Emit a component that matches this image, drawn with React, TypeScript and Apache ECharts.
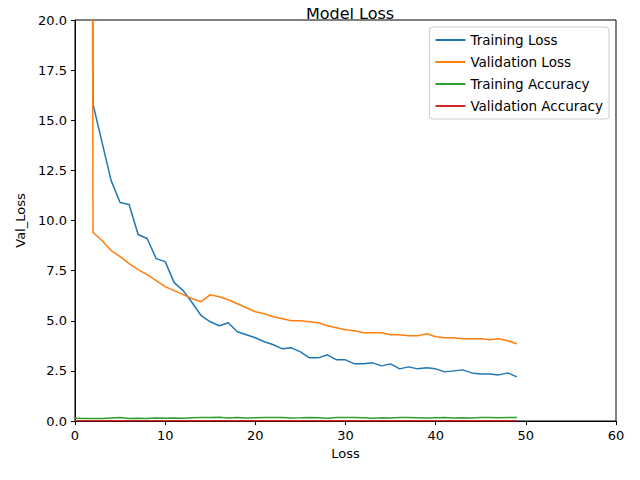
import { useEffect, useRef } from 'react'
import * as echarts from 'echarts'

const epochs = Array.from({ length: 50 }, (_, i) => i)
const trainLoss = [300, 150, 15.8, 13.9, 12.0, 10.9, 10.8, 9.3, 9.1, 8.1, 7.95, 6.9, 6.5, 5.9, 5.25, 4.95, 4.75, 4.9, 4.45, 4.3,
  4.15, 3.95, 3.8, 3.6, 3.65, 3.45, 3.15, 3.15, 3.3, 3.05, 3.05, 2.85, 2.85, 2.9, 2.75, 2.85, 2.6, 2.7, 2.6, 2.65,
  2.6, 2.45, 2.5, 2.55, 2.4, 2.35, 2.35, 2.3, 2.4, 2.2]
const valLoss = [400, 200, 9.4, 9.0, 8.5, 8.2, 7.85, 7.55, 7.3, 7.0, 6.7, 6.5, 6.3, 6.1, 5.95, 6.3, 6.2, 6.05, 5.85, 5.65,
  5.45, 5.35, 5.2, 5.1, 5.0, 5.0, 4.95, 4.9, 4.75, 4.65, 4.55, 4.5, 4.4, 4.4, 4.4, 4.3, 4.3, 4.25, 4.25, 4.35,
  4.2, 4.15, 4.15, 4.1, 4.1, 4.1, 4.05, 4.1, 4.0, 3.85]
const trainAcc = [0.14, 0.13, 0.13, 0.12, 0.15, 0.17, 0.13, 0.14, 0.12, 0.15, 0.14, 0.15, 0.14, 0.16, 0.18, 0.18, 0.19, 0.15, 0.17, 0.15,
  0.16, 0.17, 0.17, 0.18, 0.15, 0.16, 0.18, 0.16, 0.14, 0.18, 0.18, 0.17, 0.16, 0.14, 0.16, 0.15, 0.17, 0.17, 0.16, 0.15,
  0.16, 0.17, 0.15, 0.16, 0.15, 0.18, 0.18, 0.16, 0.17, 0.17]
const valAcc = epochs.map(() => 0.01)

const names = ['Training Loss', 'Validation Loss', 'Training Accuracy', 'Validation Accuracy']
const colors = ['#1f77b4', '#ff7f0e', '#2ca02c', '#d62728']
const seriesData = [trainLoss, valLoss, trainAcc, valAcc]

export default function App() {
  const ref = useRef<HTMLDivElement>(null)
  useEffect(() => {
    if (!ref.current) return
    const chart = echarts.init(ref.current, undefined, { renderer: 'svg' })
    const font = 'DejaVu Sans'
    const axisCommon = {
      axisLine: { onZero: false, lineStyle: { color: '#000', width: 1 } },
      axisTick: { inside: false, length: 4, lineStyle: { color: '#000' } },
      axisLabel: { color: '#000', fontSize: 13, fontFamily: font },
      splitLine: { show: false },
      nameLocation: 'middle' as const,
      nameTextStyle: { color: '#000', fontSize: 13, fontFamily: font },
    }
    chart.setOption({
      animation: false,
      backgroundColor: '#fff',
      title: {
        text: 'Model Loss', left: 345, top: 0, textAlign: 'center',
        textStyle: { fontSize: 16, fontWeight: 'normal', fontFamily: font, color: '#000' },
      },
      legend: {
        orient: 'vertical', right: 31, top: 27, data: names,
        itemWidth: 30, itemHeight: 2, itemGap: 8, icon: 'rect',
        borderColor: '#ccc', borderWidth: 1, borderRadius: 3, padding: [6, 6, 6, 6],
        textStyle: { fontSize: 13.5, fontFamily: font, color: '#000' },
      },
      grid: { left: 75, right: 24, top: 20, bottom: 59 },
      xAxis: {
        ...axisCommon, type: 'value', min: 0, max: 60, interval: 10, name: 'Loss', nameGap: 22,
      },
      yAxis: {
        ...axisCommon, type: 'value', min: 0, max: 20, interval: 2.5, name: 'Val_Loss', nameGap: 47,
        axisLabel: { ...axisCommon.axisLabel, formatter: (v: number) => v.toFixed(1) },
      },
      graphic: [{ type: 'rect', shape: { x: 75, y: 20, width: 541, height: 401 }, style: { fill: 'none', stroke: '#000', lineWidth: 1 }, silent: true }],
      series: seriesData.map((d, i) => ({
        type: 'line', name: names[i], data: epochs.map((e, j) => [e, d[j]]),
        showSymbol: false, clip: true, lineStyle: { color: colors[i], width: 1.5 }, itemStyle: { color: colors[i] },
      })),
    })
    return () => chart.dispose()
  }, [])
  return <div ref={ref} style={{ width: 640, height: 480, margin: -8 }} />
}
